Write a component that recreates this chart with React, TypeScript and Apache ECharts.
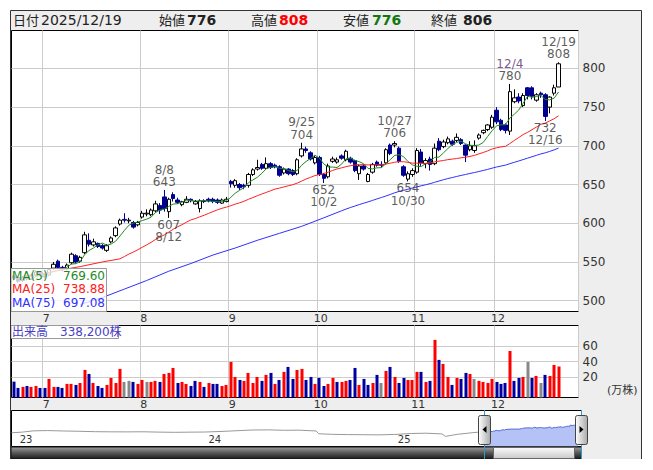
import React, { useEffect, useRef } from "react";
import * as echarts from "echarts";

// ---------------- data ----------------
const YEAR = 2025;
const TRADING_DAYS: [number, number[]][] = [
  [6, [20, 23, 24, 25, 26, 27, 30]],
  [7, [1, 2, 3, 4, 7, 8, 9, 10, 11, 14, 15, 16, 17, 18, 22, 23, 24, 25, 28, 29, 30, 31]],
  [8, [1, 4, 5, 6, 7, 8, 12, 13, 14, 15, 18, 19, 20, 21, 22, 25, 26, 27, 28, 29]],
  [9, [1, 2, 3, 4, 5, 8, 9, 10, 11, 12, 16, 17, 18, 19, 22, 24, 25, 26, 29, 30]],
  [10, [1, 2, 3, 6, 7, 8, 9, 10, 14, 15, 16, 17, 20, 21, 22, 23, 24, 27, 28, 29, 30, 31]],
  [11, [4, 5, 6, 7, 10, 11, 12, 13, 14, 17, 18, 19, 20, 21, 25, 26, 27, 28]],
  [12, [1, 2, 3, 4, 5, 8, 9, 10, 11, 12, 15, 16, 17, 18, 19]],
];

// open, high, low, close
const OHLC: [number, number, number, number][] = [
  [532, 534, 526, 529], [530, 531, 523, 525], [526, 532, 524, 530], [531, 533, 526, 528], [528, 535, 527, 533],
  [533, 539, 531, 537], [537, 538, 531, 534], [534, 536, 529, 531], [533, 542, 532, 540], [542, 550, 540, 547],
  [551, 553, 541, 543], [543, 545, 538, 540], [541, 548, 539, 546], [549, 562, 547, 560], [558, 560, 548, 550],
  [551, 558, 549, 556], [562, 589, 560, 585], [578, 587, 570, 573], [572, 580, 570, 576], [574, 575, 568, 570],
  [571, 573, 566, 568], [565, 573, 563, 571], [576, 583, 574, 581], [584, 596, 582, 594], [599, 606, 597, 604],
  [605, 613, 601, 604], [603, 607, 600, 604], [601, 603, 593, 595], [598, 603, 596, 601], [608, 616, 606, 613],
  [612, 618, 609, 613], [611, 619, 609, 617], [616, 629, 614, 625], [623, 626, 612, 617], [634, 643, 615, 619],
  [615, 633, 607, 631], [637, 640, 628, 632], [630, 633, 625, 627], [624, 629, 622, 628], [627, 635, 626, 631],
  [631, 632, 627, 629], [625, 630, 624, 628], [619, 631, 614, 629], [629, 631, 626, 628], [631, 633, 627, 629],
  [631, 633, 626, 628], [630, 632, 625, 627], [626, 632, 625, 630], [628, 634, 627, 631], [654, 656, 646, 651],
  [649, 657, 646, 655], [650, 652, 643, 646], [649, 651, 644, 647], [649, 665, 646, 663], [663, 671, 661, 669],
  [670, 682, 668, 672], [676, 678, 669, 671], [671, 685, 669, 677], [677, 679, 670, 672], [675, 677, 671, 673],
  [673, 675, 660, 662], [665, 672, 663, 670], [670, 671, 662, 664], [668, 670, 661, 663], [664, 684, 662, 682],
  [687, 704, 685, 696], [696, 699, 691, 694], [691, 693, 681, 683], [678, 687, 676, 685], [685, 687, 661, 663],
  [663, 665, 652, 658], [660, 677, 658, 674], [680, 686, 678, 683], [679, 685, 677, 682], [687, 689, 682, 684],
  [682, 695, 680, 693], [684, 686, 677, 679], [681, 682, 666, 668], [664, 676, 656, 674], [674, 676, 668, 670],
  [654, 665, 653, 663], [666, 678, 664, 676], [679, 681, 673, 675], [676, 680, 672, 675], [678, 697, 676, 695],
  [701, 703, 688, 690], [701, 706, 698, 703], [697, 699, 678, 680], [673, 675, 660, 662], [657, 667, 654, 664],
  [663, 671, 660, 668], [666, 697, 664, 694], [692, 696, 674, 678], [677, 684, 671, 681], [683, 686, 668, 676],
  [677, 703, 675, 697], [706, 710, 693, 695], [699, 708, 697, 705], [704, 712, 702, 709], [706, 708, 700, 702],
  [707, 716, 705, 711], [708, 710, 701, 703], [701, 702, 679, 688], [695, 706, 693, 700], [694, 707, 691, 700],
  [710, 716, 708, 714], [717, 721, 715, 720], [721, 728, 719, 727], [724, 740, 722, 737], [746, 750, 728, 731],
  [733, 735, 719, 721], [727, 729, 716, 720], [719, 780, 714, 770], [757, 773, 755, 762], [763, 768, 755, 758],
  [752, 768, 750, 765], [775, 776, 760, 765], [775, 777, 760, 764], [759, 768, 757, 766], [768, 770, 762, 766],
  [766, 768, 732, 738], [750, 764, 742, 763], [768, 779, 765, 775], [776, 808, 776, 806],
];
const PREV_CLOSE = 533; // close of the session before the first one shown

// volume in 万株
const VOLUME_MAN = [
  14.7, 6.7, 8.0, 9.2, 8.0, 9.2, 6.7, 6.7, 18.1, 8.0,
  8.0, 6.7, 11.8, 11.8, 10.5, 13.0, 29.5, 24.4, 13.0, 9.2,
  6.7, 10.5, 19.4, 13.0, 30.8, 14.3, 15.6, 14.3, 11.8, 16.8,
  14.3, 14.3, 15.6, 14.3, 24.4, 25.7, 32.0, 13.0, 14.3, 11.8,
  9.2, 15.6, 14.3, 8.0, 13.0, 11.8, 11.8, 9.2, 10.5, 39.6,
  20.6, 16.8, 15.6, 25.7, 13.0, 20.6, 15.6, 23.2, 25.7, 11.8,
  16.8, 27.0, 33.3, 18.1, 29.5, 30.8, 16.8, 20.6, 11.8, 19.4,
  9.2, 11.8, 19.4, 14.3, 14.3, 15.6, 16.8, 32.0, 10.5, 18.1,
  10.5, 13.0, 23.2, 13.0, 28.2, 33.3, 20.6, 13.0, 19.4, 16.8,
  16.8, 27.0, 27.0, 14.3, 15.6, 67.5, 42.2, 37.1, 20.6, 10.5,
  19.4, 18.1, 25.7, 24.4, 18.1, 15.6, 14.3, 13.0, 18.1, 14.3,
  11.8, 13.0, 53.5, 15.6, 19.4, 20.6, 39.6, 19.4, 21.9, 13.0,
  23.2, 21.9, 35.8, 33.82,
];

// moving-average values before enough sessions exist in this file
const MA25_EARLY: [number, number][] = [[0, 528], [5, 533], [10, 539], [15, 544], [20, 550]];
const MA75_EARLY: [number, number][] = [
  [15, 495], [20, 504], [25, 515], [30, 526], [35, 538], [40, 548], [45, 559],
  [50, 568], [55, 578], [60, 587], [65, 596], [70, 607],
];

const PEAKS = ["8/8", "9/25", "10/27", "12/4", "12/19"];
const TROUGHS = ["8/12", "10/2", "10/30", "12/16"];
const HIGHLIGHT_PEAK = "12/4";

const PRICE_TICKS = [500, 550, 600, 650, 700, 750, 800];
const VOLUME_TICKS = [20, 40, 60];

// long-term navigator history (approximate closes)
const NAV_HISTORY: [string, number][] = [
  ["2022-12-20", 495], ["2023-01-10", 520], ["2023-01-31", 565], ["2023-02-28", 575], ["2023-03-31", 560],
  ["2023-04-28", 550], ["2023-05-31", 535], ["2023-06-30", 530], ["2023-07-31", 528], ["2023-08-31", 532],
  ["2023-09-29", 520], ["2023-10-31", 512], ["2023-11-30", 518], ["2023-12-28", 522], ["2024-01-31", 545],
  ["2024-02-29", 570], ["2024-03-29", 595], ["2024-04-30", 600], ["2024-05-31", 585], ["2024-06-28", 590],
  ["2024-07-31", 560], ["2024-08-05", 460], ["2024-08-30", 440], ["2024-09-30", 430], ["2024-10-31", 425],
  ["2024-11-29", 420], ["2024-12-30", 435], ["2025-01-31", 470], ["2025-02-28", 480], ["2025-03-31", 455],
  ["2025-04-07", 365], ["2025-04-30", 440], ["2025-05-30", 500], ["2025-06-19", 533],
];
const NAV_RANGE = ["2022-12-20", "2025-12-26"];
const NAV_YEAR_TICKS = ["2023-01-01", "2024-01-01", "2025-01-01"];

// ---------------- derived ----------------
const pad = (n: number) => String(n).padStart(2, "0");
const ts = (s: string) => {
  const [y, m, d] = s.split("-").map(Number);
  return Date.UTC(y, m - 1, d);
};
const labels: string[] = [];
const isoDates: string[] = [];
const monthStart: boolean[] = [];
TRADING_DAYS.forEach(([m, days], mi) =>
  days.forEach((d, k) => {
    labels.push(`${m}/${d}`);
    isoDates.push(`${YEAR}-${pad(m)}-${pad(d)}`);
    monthStart.push(mi > 0 && k === 0);
  })
);
const N = OHLC.length;
const closes = OHLC.map((r) => r[3]);
const movingAverage = (n: number) =>
  closes.map((_, i) =>
    i < n - 1 ? null : Math.round((closes.slice(i - n + 1, i + 1).reduce((a, b) => a + b, 0) / n) * 100) / 100
  );
const withEarly = (calc: (number | null)[], early: [number, number][]) => {
  const m = new Map(early);
  return calc.map((v, i) => (v !== null ? v : m.has(i) ? (m.get(i) as number) : null));
};
const ma5 = movingAverage(5);
const ma25 = withEarly(movingAverage(25), MA25_EARLY);
const ma75 = withEarly(movingAverage(75), MA75_EARLY);

const volumeData = VOLUME_MAN.map((v, i) => {
  const prev = i === 0 ? PREV_CLOSE : closes[i - 1];
  return [i, v, Math.sign(closes[i] - prev)];
});

const last = OHLC[N - 1];
const [lm, ld] = labels[N - 1].split("/").map(Number);
const lastDate = `${YEAR}/${pad(lm)}/${pad(ld)}`;

const FONT = "DejaVu Sans, Noto Sans CJK JP, sans-serif";
const GREEN = "#1f8a1f";
const RED = "#ff2020";
const BLUE = "#3030ff";
const NAVY = "#000090";

const catAxis = (gridIndex: number) => ({
  type: "category",
  gridIndex,
  data: labels,
  max: N - 1 + 4,
  boundaryGap: true,
  axisLine: { show: false },
  axisTick: { show: false },
  axisLabel: {
    interval: (idx: number) => !!monthStart[idx],
    formatter: (v: string) => (v ? v.split("/")[0] : ""),
    margin: 1,
    padding: [0, 0, 0, 3],
    fontSize: 11,
    color: "#333",
    fontFamily: FONT,
  },
  splitLine: { show: true, interval: (idx: number) => !!monthStart[idx], lineStyle: { color: "#cccccc", width: 1 } },
});

const markerSeries = (names: string[], high: boolean) => ({
  type: "scatter",
  xAxisIndex: 0,
  yAxisIndex: 0,
  symbolSize: 1,
  itemStyle: { color: "rgba(0,0,0,0)" },
  z: 5,
  data: names.map((d) => {
    const i = labels.indexOf(d);
    return { name: d, value: [i, high ? OHLC[i][1] : OHLC[i][2]] };
  }),
  label: {
    show: true,
    position: high ? "top" : "bottom",
    distance: high ? 1 : 0,
    formatter: (p: any) => {
      const dk = p.name === HIGHLIGHT_PEAK ? "p" : "d";
      return high ? `{${dk}|${p.name}}\n{v|${p.value[1]}}` : `{v|${p.value[1]}}\n{${dk}|${p.name}}`;
    },
    rich: {
      d: { fontSize: 12, lineHeight: 12.5, color: "#333", fontFamily: FONT },
      p: { fontSize: 12, lineHeight: 12.5, color: "#5a2a72", fontFamily: FONT },
      v: { fontSize: 12, lineHeight: 12.5, color: "#333", fontFamily: FONT },
    },
  },
});

const txt = (x: number, y: number, text: string, opts: any = {}) => ({
  type: "text",
  x,
  y,
  z: 100,
  silent: true,
  style: {
    text,
    fontSize: opts.fontSize ?? 13,
    fontFamily: FONT,
    fontWeight: opts.bold ? "bold" : "normal",
    fill: opts.color ?? "#222",
    align: opts.align ?? "left",
    verticalAlign: "middle",
  },
});

const grad = (stops: [number, string][], horizontal = false) =>
  new echarts.graphic.LinearGradient(0, 0, horizontal ? 1 : 0, horizontal ? 0 : 1, stops.map(([offset, color]) => ({ offset, color })));

const option: any = {
  animation: false,
  backgroundColor: "#eeeeee",
  grid: [
    { left: 1.5, top: 20.5, width: 567, height: 281, show: true, backgroundColor: "#ffffff", borderColor: "#000", borderWidth: 1 },
    { left: 1.5, top: 315.5, width: 567, height: 72, show: true, backgroundColor: "#ffffff", borderColor: "#000", borderWidth: 1 },
    { left: 1.5, top: 400.5, width: 570, height: 36, show: true, backgroundColor: "#ffffff", borderColor: "#000", borderWidth: 1 },
  ],
  xAxis: [
    catAxis(0),
    catAxis(1),
    {
      type: "value",
      gridIndex: 2,
      min: ts(NAV_RANGE[0]),
      max: ts(NAV_RANGE[1]),
      axisLine: { show: false },
      axisTick: { show: false, customValues: NAV_YEAR_TICKS.map(ts) },
      splitLine: { show: false },
      axisLabel: {
        customValues: NAV_YEAR_TICKS.map(ts),
        inside: true,
        margin: 2,
        align: "left",
        padding: [0, 0, 0, 2],
        fontSize: 10,
        color: "#333",
        fontFamily: FONT,
        formatter: (v: number) => String(new Date(v).getUTCFullYear() % 100),
      },
    },
  ],
  yAxis: [
    {
      type: "value",
      gridIndex: 0,
      position: "right",
      min: 486,
      max: 849,
      axisLine: { show: false },
      axisTick: { show: false, customValues: PRICE_TICKS },
      axisLabel: { customValues: PRICE_TICKS, margin: 4, fontSize: 12, color: "#333", fontFamily: FONT },
      splitLine: { show: true, lineStyle: { color: "#cccccc", width: 1 } },
    },
    {
      type: "value",
      gridIndex: 1,
      position: "right",
      min: -5.4,
      max: 85.7,
      axisLine: { show: false },
      axisTick: { show: false, customValues: VOLUME_TICKS },
      axisLabel: { customValues: VOLUME_TICKS, margin: 4, fontSize: 12, color: "#333", fontFamily: FONT },
      splitLine: { show: true, lineStyle: { color: "#cccccc", width: 1 } },
    },
    { type: "value", gridIndex: 2, min: 0, max: 1300, show: false },
  ],
  series: [
    {
      type: "candlestick",
      xAxisIndex: 0,
      yAxisIndex: 0,
      barWidth: 4,
      z: 3,
      data: OHLC.map(([o, h, l, c]) => [o, c, l, h]),
      itemStyle: { color: "#ffffff", color0: NAVY, borderColor: "#000000", borderColor0: NAVY, borderWidth: 1 },
    },
    { type: "line", xAxisIndex: 0, yAxisIndex: 0, data: ma5, showSymbol: false, z: 4, lineStyle: { color: GREEN, width: 1 } },
    { type: "line", xAxisIndex: 0, yAxisIndex: 0, data: ma25, showSymbol: false, connectNulls: true, z: 4, lineStyle: { color: RED, width: 1 } },
    { type: "line", xAxisIndex: 0, yAxisIndex: 0, data: ma75, showSymbol: false, connectNulls: true, z: 4, lineStyle: { color: BLUE, width: 1 } },
    markerSeries(PEAKS, true),
    markerSeries(TROUGHS, false),
    {
      type: "custom",
      xAxisIndex: 1,
      yAxisIndex: 1,
      data: volumeData,
      encode: { x: 0, y: 1 },
      renderItem: (params: any, api: any) => {
        const top = api.coord([api.value(0), api.value(1)]);
        const cs = params.coordSys;
        const bottom = cs.y + cs.height;
        const dir = api.value(2);
        return {
          type: "rect",
          shape: { x: Math.round(top[0]) - 1.5, y: top[1], width: 3, height: bottom - top[1] },
          style: { fill: dir > 0 ? "#ff0000" : dir < 0 ? "#0000a0" : "#888888" },
        };
      },
    },
    {
      type: "line",
      xAxisIndex: 2,
      yAxisIndex: 2,
      showSymbol: false,
      data: [...NAV_HISTORY, [isoDates[0], closes[0]]].map(([d, v]) => [ts(d as string), v]),
      lineStyle: { color: "#999999", width: 1 },
    },
    {
      type: "line",
      xAxisIndex: 2,
      yAxisIndex: 2,
      showSymbol: false,
      data: isoDates.map((d, i) => [ts(d), closes[i]]),
      lineStyle: { color: "#5566d6", width: 1 },
      areaStyle: { color: "#b4c2f6", opacity: 1 },
    },
  ],
  graphic: [
    // outer frame
    { type: "rect", z: 120, silent: true, shape: { x: 0.5, y: 0.5, width: 631, height: 450 }, style: { fill: "none", stroke: "#333", lineWidth: 1 } },
    // header
    txt(3, 10, "日付"),
    txt(31, 10, lastDate, { fontSize: 14 }),
    txt(149, 10, "始値"),
    txt(177, 10, String(last[0]), { fontSize: 14, bold: true }),
    txt(241, 10, "高値"),
    txt(269, 10, String(last[1]), { fontSize: 14, bold: true, color: "#ff0000" }),
    txt(333, 10, "安値"),
    txt(362, 10, String(last[2]), { fontSize: 14, bold: true, color: "#117711" }),
    txt(421, 10, "終値"),
    txt(453, 10, String(last[3]), { fontSize: 14, bold: true }),
    // MA legend
    { type: "rect", z: 90, silent: true, shape: { x: 0.5, y: 258.5, width: 96, height: 43 }, style: { fill: "rgba(255,255,255,0.78)", stroke: "#999", lineWidth: 1 } },
    txt(2, 265.5, "MA(5)", { fontSize: 12, color: GREEN }),
    txt(95, 265.5, (ma5[N - 1] as number).toFixed(2), { fontSize: 12, color: GREEN, align: "right" }),
    txt(2, 279, "MA(25)", { fontSize: 12, color: RED }),
    txt(95, 279, (ma25[N - 1] as number).toFixed(2), { fontSize: 12, color: RED, align: "right" }),
    txt(2, 292.5, "MA(75)", { fontSize: 12, color: BLUE }),
    txt(95, 292.5, (ma75[N - 1] as number).toFixed(2), { fontSize: 12, color: BLUE, align: "right" }),
    // volume legend
    { type: "rect", z: 90, silent: true, shape: { x: 0.5, y: 315.5, width: 108, height: 13 }, style: { fill: "rgba(255,255,255,0.8)", stroke: "#999", lineWidth: 1 } },
    txt(2, 322, `出来高　${Math.round(VOLUME_MAN[N - 1] * 10000).toLocaleString("en-US")}株`, { fontSize: 12, color: "#4a3fc4" }),
    txt(597, 380.5, "(万株)", { fontSize: 11, color: "#333" }),
    // navigator chrome
    { type: "rect", z: 95, silent: true, shape: { x: 1, y: 437, width: 570.5, height: 12 }, style: { fill: grad([[0, "#a0a0a0"], [0.5, "#555555"], [1, "#1a1a1a"]]), stroke: "#111", lineWidth: 1 } },
    { type: "rect", z: 96, silent: true, shape: { x: 483.5, y: 437.5, width: 81, height: 11 }, style: { fill: grad([[0, "#fbfbfb"], [1, "#c9c9c9"]]), stroke: "#666", lineWidth: 1 } },
    { type: "line", z: 97, silent: true, shape: { x1: 474.5, y1: 400, x2: 474.5, y2: 449 }, style: { stroke: "#2a9ad0", lineWidth: 1 } },
    { type: "line", z: 97, silent: true, shape: { x1: 571.5, y1: 400, x2: 571.5, y2: 449 }, style: { stroke: "#2a9ad0", lineWidth: 1 } },
    { type: "rect", z: 98, silent: true, shape: { x: 468.5, y: 405.5, width: 12, height: 29, r: 2 }, style: { fill: grad([[0, "#ffffff"], [1, "#a9a9a9"]], true), stroke: "#444", lineWidth: 1 } },
    { type: "polygon", z: 99, silent: true, shape: { points: [[472.5, 419.5], [476.5, 416], [476.5, 423]] }, style: { fill: "#000" } },
    { type: "rect", z: 98, silent: true, shape: { x: 565.5, y: 405.5, width: 12, height: 29, r: 2 }, style: { fill: grad([[0, "#ffffff"], [1, "#a9a9a9"]], true), stroke: "#444", lineWidth: 1 } },
    { type: "polygon", z: 99, silent: true, shape: { points: [[573.5, 419.5], [569.5, 416], [569.5, 423]] }, style: { fill: "#000" } },
  ],
};

export default function App() {
  const ref = useRef<HTMLDivElement>(null);
  useEffect(() => {
    const chart = echarts.init(ref.current as HTMLDivElement, undefined, { renderer: "svg" });
    chart.setOption(option);
    return () => chart.dispose();
  }, []);
  return <div ref={ref} style={{ position: "relative", left: 2, top: 2, width: 632, height: 451 }} />;
}
